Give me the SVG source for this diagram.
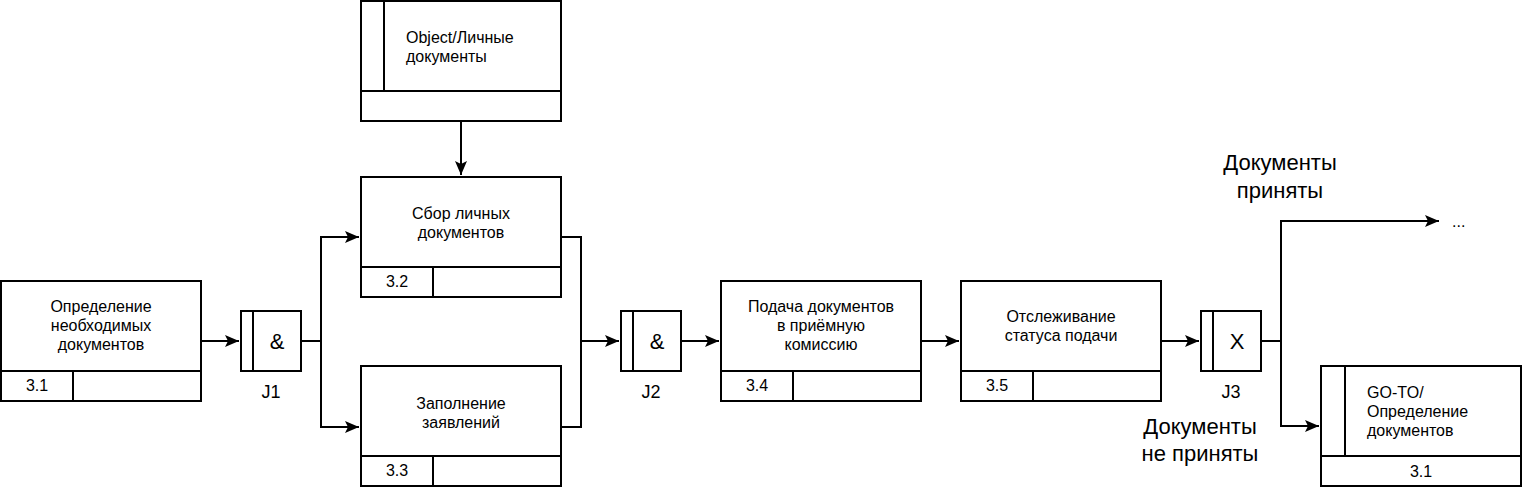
<svg xmlns="http://www.w3.org/2000/svg" width="1526" height="490" viewBox="0 0 1526 490">
<defs>
<marker id="arr" markerUnits="userSpaceOnUse" markerWidth="16" markerHeight="14" viewBox="-15 -7 16 14" refX="0" refY="0" orient="auto">
<path d="M-14,-6 L0,0 L-14,6 L-11,0 Z" fill="#000" stroke="none"/>
</marker>
<style>
.b{fill:#fff;stroke:#000;stroke-width:2}
.l{fill:none;stroke:#000;stroke-width:2}
.c{stroke:#000;stroke-width:2;fill:none;stroke-linejoin:miter}
text{font-family:"Liberation Sans",Arial,sans-serif;fill:#000}
.t{font-size:16px;text-anchor:middle}
.tl{font-size:16px;text-anchor:start}
.j{font-size:22px;text-anchor:middle}
.jl{font-size:18px;text-anchor:middle}
.big{font-size:22px;text-anchor:middle}
</style>
</defs>
<rect width="1526" height="490" fill="#fff"/>
<g id="connectors">
<path class="c" d="M201,341 L239,341" marker-end="url(#arr)"/>
<path class="c" d="M301,341 L321,341 L321,237 L359,237" marker-end="url(#arr)"/>
<path class="c" d="M321,341 L321,427 L359,427" marker-end="url(#arr)"/>
<path class="c" d="M461,121 L461,175" marker-end="url(#arr)"/>
<path class="c" d="M561,237 L581,237 L581,341 L619,341" marker-end="url(#arr)"/>
<path class="c" d="M561,427 L581,427 L581,341"/>
<path class="c" d="M681,341 L719,341" marker-end="url(#arr)"/>
<path class="c" d="M921,341 L959,341" marker-end="url(#arr)"/>
<path class="c" d="M1161,341 L1199,341" marker-end="url(#arr)"/>
<path class="c" d="M1261,341 L1281,341 L1281,221 L1439,221" marker-end="url(#arr)"/>
<path class="c" d="M1281,341 L1281,426 L1319,426" marker-end="url(#arr)"/>
</g>
<g id="n31">
<rect class="b" x="1" y="281" width="200" height="120"/>
<path class="l" d="M1,371 H201 M73,371 V401"/>
<text class="t" x="101" y="312">Определение</text>
<text class="t" x="101" y="331">необходимых</text>
<text class="t" x="101" y="350">документов</text>
<text class="t" x="37" y="391">3.1</text>
</g>
<g id="j1">
<rect class="b" x="241" y="311" width="60" height="60"/>
<path class="l" d="M253,311 V371"/>
<text class="j" x="277" y="349">&amp;</text>
<text class="jl" x="271" y="398">J1</text>
</g>
<g id="obj">
<rect class="b" x="361" y="1" width="200" height="120"/>
<path class="l" d="M361,91 H561 M384,1 V91"/>
<text class="tl" x="406" y="43">Object/Личные</text>
<text class="tl" x="406" y="62">документы</text>
</g>
<g id="n32">
<rect class="b" x="361" y="177" width="200" height="120"/>
<path class="l" d="M361,267 H561 M433,267 V297"/>
<text class="t" x="461" y="219">Сбор личных</text>
<text class="t" x="461" y="238">документов</text>
<text class="t" x="397" y="287">3.2</text>
</g>
<g id="n33">
<rect class="b" x="361" y="366" width="200" height="120"/>
<path class="l" d="M361,456 H561 M433,456 V486"/>
<text class="t" x="461" y="409">Заполнение</text>
<text class="t" x="461" y="428">заявлений</text>
<text class="t" x="397" y="476">3.3</text>
</g>
<g id="j2">
<rect class="b" x="621" y="311" width="60" height="60"/>
<path class="l" d="M633,311 V371"/>
<text class="j" x="657" y="349">&amp;</text>
<text class="jl" x="651" y="398">J2</text>
</g>
<g id="n34">
<rect class="b" x="721" y="281" width="200" height="120"/>
<path class="l" d="M721,371 H921 M793,371 V401"/>
<text class="t" x="821" y="312">Подача документов</text>
<text class="t" x="821" y="331">в приёмную</text>
<text class="t" x="821" y="350">комиссию</text>
<text class="t" x="757" y="391">3.4</text>
</g>
<g id="n35">
<rect class="b" x="961" y="281" width="200" height="120"/>
<path class="l" d="M961,371 H1161 M1033,371 V401"/>
<text class="t" x="1061" y="322">Отслеживание</text>
<text class="t" x="1061" y="341">статуса подачи</text>
<text class="t" x="997" y="391">3.5</text>
</g>
<g id="j3">
<rect class="b" x="1201" y="311" width="60" height="60"/>
<path class="l" d="M1213,311 V371"/>
<text class="j" x="1237" y="349">X</text>
<text class="jl" x="1231" y="398">J3</text>
</g>
<g id="goto">
<rect class="b" x="1321" y="366" width="200" height="120"/>
<path class="l" d="M1321,456 H1521 M1345,366 V456"/>
<text class="tl" x="1367" y="398">GO-TO/</text>
<text class="tl" x="1367" y="417">Определение</text>
<text class="tl" x="1367" y="436">документов</text>
<text class="t" x="1421" y="477">3.1</text>
</g>
<g id="labels">
<text class="big" x="1280" y="170">Документы</text>
<text class="big" x="1280" y="198">приняты</text>
<text class="big" x="1200" y="434">Документы</text>
<text class="big" x="1200" y="461">не приняты</text>
<text class="tl" x="1452" y="227">...</text>
</g>
</svg>
